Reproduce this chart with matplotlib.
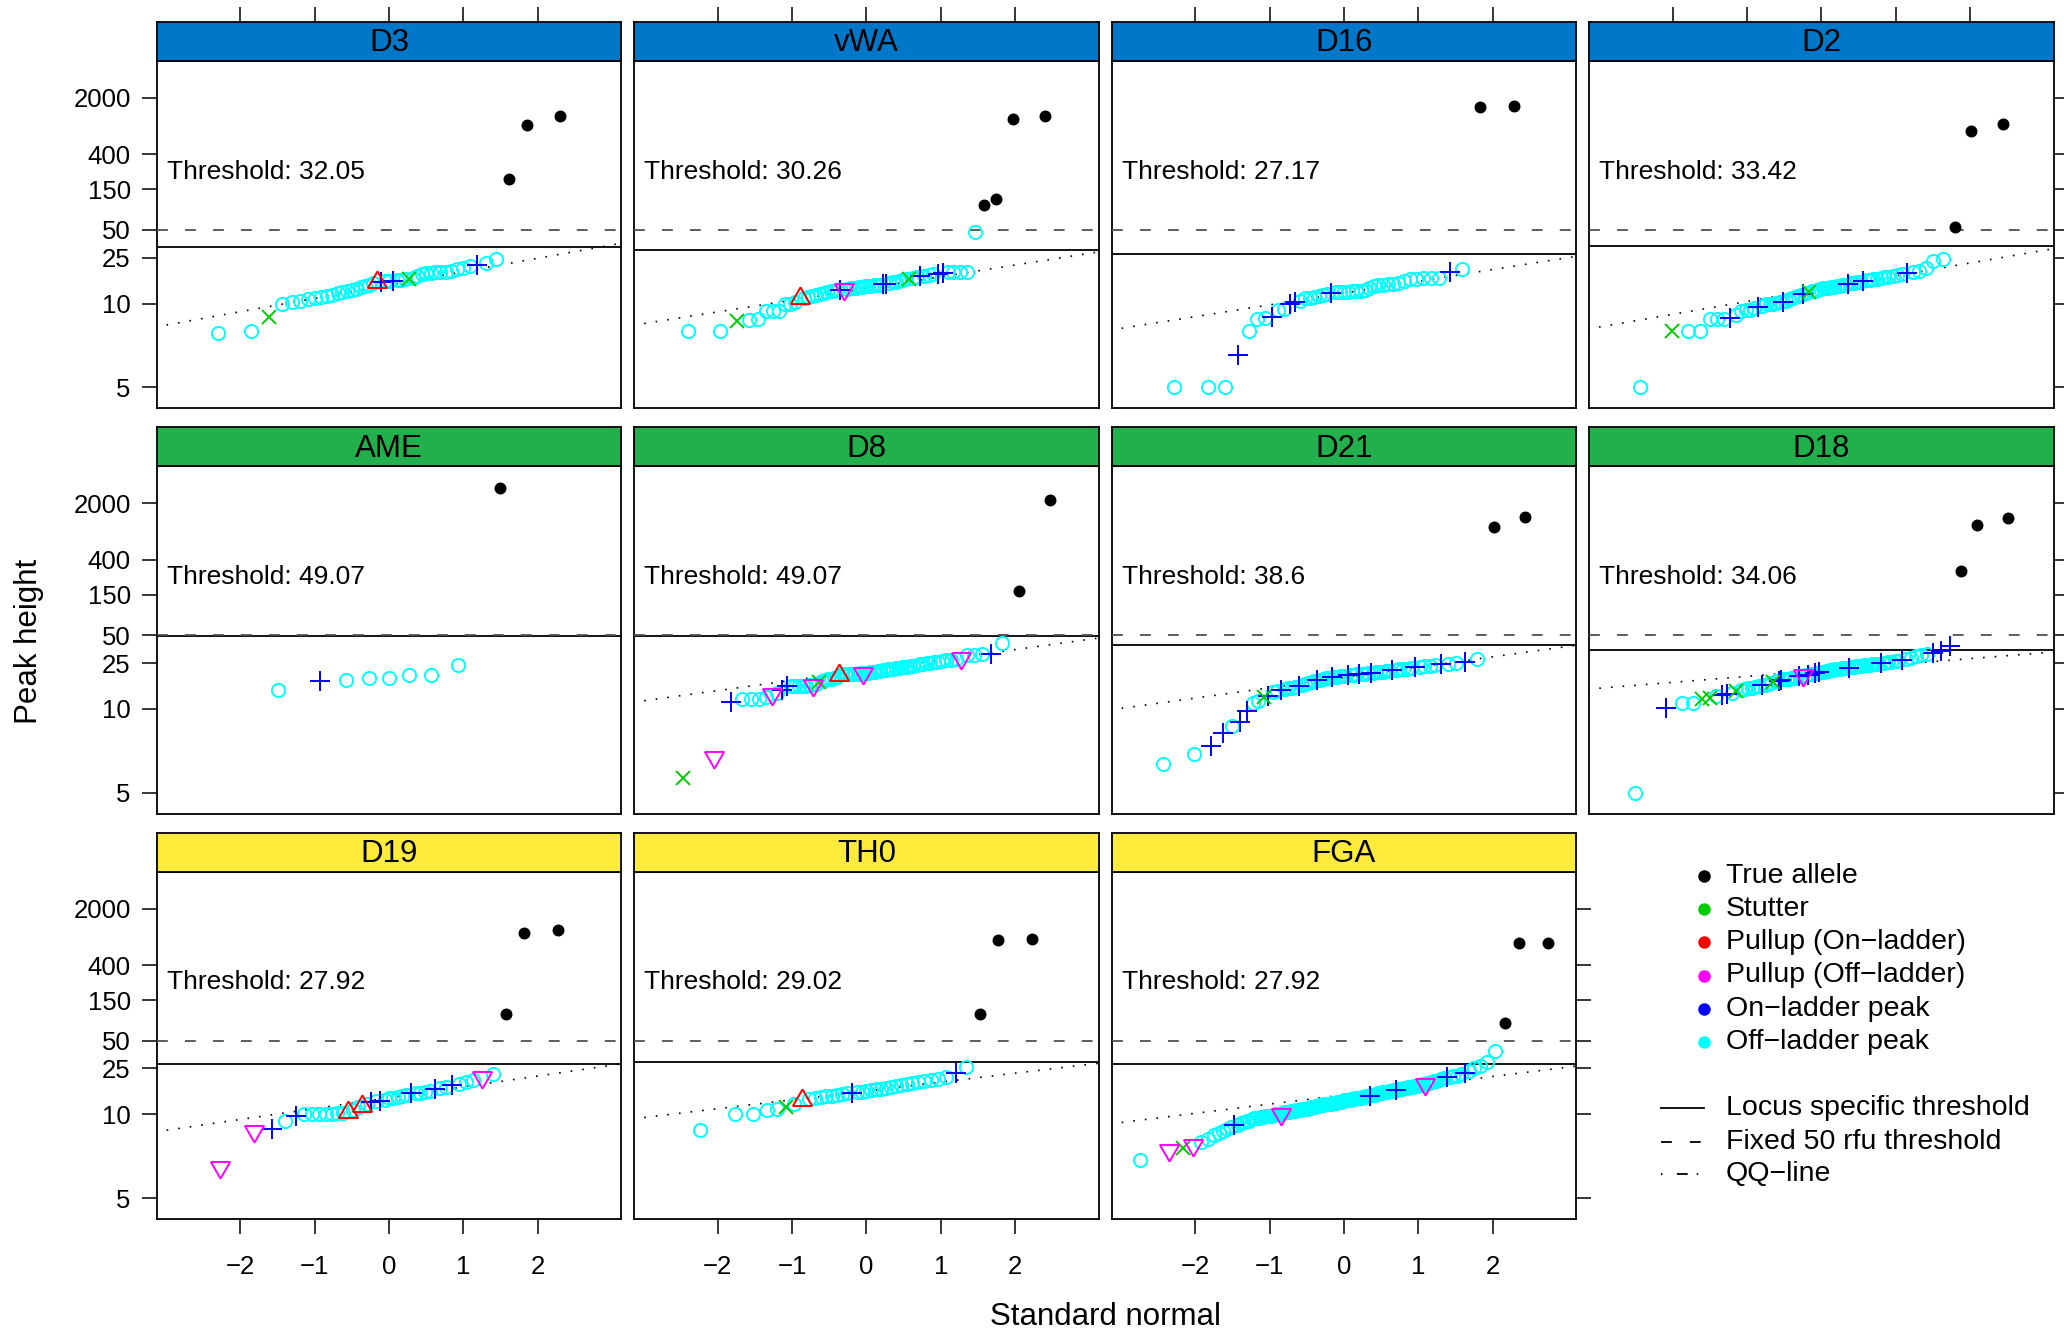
import numpy as np
import matplotlib.pyplot as plt
from statistics import NormalDist

plt.rcParams['font.family'] = ['Liberation Sans', 'DejaVu Sans']

# panel order (row by row), dye of each locus and the printed threshold
loci = ['D3', 'vWA', 'D16', 'D2', 'AME', 'D8', 'D21', 'D18', 'D19', 'TH0', 'FGA']
dye = ['blue', 'blue', 'blue', 'blue', 'green', 'green', 'green', 'green',
       'yellow', 'yellow', 'yellow']
threshold = [32.05, 30.26, 27.17, 33.42, 49.07, 49.07, 38.6, 34.06, 27.92, 29.02, 27.92]
# qq-line on the log(height - 4.5) scale: value at 0 and slope (AME has none)
qq_icept = [2.239, 2.14, 2.007, 2.134, None, 2.82, 2.608, 2.808, 2.18, 2.375, 2.262]
qq_slope = [0.383, 0.336, 0.3375, 0.3675, None, 0.294, 0.2957, 0.170, 0.311, 0.2545, 0.264]

# peak heights (sorted) and peak type per locus
# A true allele, S stutter, R pullup on-ladder, M pullup off-ladder, B on-ladder, C off-ladder
D3_height = [6.85, 7.0, 8.2, 10.0, 10.2, 10.4, 10.7, 10.9, 11.1, 11.4,
             11.6, 11.9, 12.2, 12.4, 12.7, 12.9, 13.3, 13.7, 14.0, 14.3,
             14.6, 14.8, 15.0, 15.0, 15.0, 15.2, 15.4, 15.5, 15.7, 16.0,
             16.6, 17.2, 17.6, 17.9, 18.1, 18.2, 18.3, 18.6, 19.3, 19.9,
             20.5, 21.2, 22.0, 24.1, 200, 925, 1185]
D3_type = "CCSCCCCCCC" "CCCCCCCCCC" "RBCCBCCCSC" "CCCCCCCCCC" "CBCCAAA"

vWA_height = [7.0, 7.0, 7.8, 7.9, 8.0, 8.9, 9.0, 9.0, 9.9, 10.0,
              10.2, 10.9, 11.0, 11.1, 11.3, 11.5, 11.7, 11.9, 12.1, 12.3,
              12.4, 12.6, 12.7, 12.8, 12.9, 13.0, 13.1, 13.2, 13.3, 13.4,
              13.5, 13.6, 13.7, 13.8, 13.9, 14.0, 14.1, 14.2, 14.4, 14.6,
              14.8, 15.0, 15.2, 15.5, 15.7, 16.0, 16.3, 16.5, 16.8, 17.1,
              17.3, 17.5, 17.7, 18.0, 18.2, 18.3, 18.3, 47.7, 97.4, 114,
              1087, 1195]
vWA_type = "CCSCCCCCCC" "CRCCCCCCCC" "CCBMCCCCCC" "CCCCCCBBCC" "CCCCSCCBCC" "CBBCCCCCAA" "AA"

D16_height = [5.0, 5.0, 5.0, 5.76, 7.0, 8.0, 8.1, 8.2, 9.1, 9.2,
              9.9, 10.2, 10.5, 10.9, 11.0, 11.2, 11.3, 11.5, 11.7, 12.0,
              12.1, 12.1, 12.2, 12.2, 12.3, 12.3, 12.4, 12.6, 13.2, 13.6,
              13.9, 14.0, 14.1, 14.2, 14.3, 15.0, 15.5, 15.8, 15.9, 16.0,
              16.1, 18.3, 19.2, 1560, 1590]
D16_type = "CCCBCCCBCC" "BBCCCCCCCB" "CCCCCCCCCC" "CCCCCCCCCC" "CBCAA"

D2_height = [5.0, 7.0, 7.0, 7.0, 8.0, 8.0, 8.0, 8.1, 8.5, 9.0,
             9.1, 9.1, 9.3, 9.5, 9.7, 9.9, 10.0, 10.0, 10.1, 10.2,
             10.3, 10.5, 10.7, 11.0, 11.2, 11.4, 11.6, 11.8, 12.0, 12.1,
             12.3, 12.5, 12.7, 12.9, 13.0, 13.1, 13.2, 13.3, 13.4, 13.5,
             13.7, 13.9, 14.0, 14.1, 14.3, 14.5, 14.7, 14.8, 15.0, 15.2,
             15.4, 15.6, 15.8, 16.0, 16.2, 16.4, 16.7, 17.0, 17.3, 17.8,
             18.1, 18.5, 19.8, 23.0, 24.5, 54.4, 786, 952]
D2_type = "CSCCCCCBCC" "CCCBCCCCCC" "BCCCCCCBCS" "CCCCCCCCCC" "CCCBCCCCBC" "CCCCCCCCCB" "CCCCCAAA"

AME_height = [14.0, 16.9, 17.0, 18.0, 18.0, 19.0, 19.0, 24.0, 3135]
AME_type = "CBCCCCCCA"

D8_height = [5.26, 5.87, 11.2, 11.9, 11.9, 11.9, 12.2, 12.9, 13.3, 14.1,
             15.0, 15.0, 15.0, 15.1, 15.1, 15.2, 15.3, 15.4, 15.6, 16.5,
             16.8, 17.2, 17.4, 17.6, 17.9, 18.3, 19.2, 19.3, 19.4, 19.5,
             19.5, 19.6, 19.6, 19.7, 19.8, 19.8, 19.9, 20.0, 20.2, 20.4,
             20.6, 20.8, 21.0, 21.2, 21.4, 21.6, 21.8, 22.0, 22.2, 22.4,
             22.6, 22.8, 23.0, 23.3, 23.6, 23.9, 24.2, 24.5, 24.8, 25.1,
             25.5, 25.9, 26.3, 26.7, 27.1, 27.4, 28.3, 30.0, 30.5, 30.9,
             31.4, 41.3, 164, 2205]
D8_type = ("SMBCCCCMCB" "BCCCCCCMCS" "CCCCCCRCCC" "CCCCCMCCCC" "CCCCCCCCCC"
           "CCCCCCCCCC" "CCCCCCMCCC" "BCAA")

D21_height = [5.63, 6.0, 6.4, 7.3, 7.9, 8.3, 9.7, 11.0, 11.5, 12.2,
              12.5, 13.5, 13.8, 14.1, 14.3, 14.5, 14.6, 14.8, 15.0, 15.3,
              15.6, 16.0, 16.5, 16.8, 17.0, 17.3, 17.5, 17.7, 17.9, 18.1,
              18.2, 18.4, 18.5, 18.7, 18.8, 19.0, 19.1, 19.2, 19.3, 19.5,
              19.6, 19.7, 19.8, 20.0, 20.1, 20.2, 20.4, 20.6, 20.8, 21.0,
              21.2, 21.4, 21.6, 21.8, 22.0, 22.3, 22.6, 22.9, 23.2, 23.5,
              23.9, 24.2, 24.7, 25.2, 25.6, 27.4, 1027, 1356]
D21_type = "CCBBCBBCCS" "BCCBCCCCBC" "CCCCBCCCCB" "CCCCCBCCCB" "CCCBCCCCCC" "BCCCCCBCCC" "CBCCBCAA"

D18_height = [5.0, 10.2, 11.0, 11.0, 11.8, 12.0, 12.4, 12.8, 13.0, 13.3,
              13.6, 14.0, 14.3, 14.5, 14.6, 14.8, 15.0, 15.3, 15.5, 15.8,
              16.0, 16.3, 16.6, 16.9, 17.2, 17.4, 17.5, 17.6, 17.8, 18.0,
              18.2, 18.5, 18.7, 18.9, 19.0, 19.2, 19.4, 19.6, 19.8, 20.0,
              20.2, 20.4, 20.6, 20.8, 21.0, 21.2, 21.4, 21.6, 21.8, 22.0,
              22.1, 22.2, 22.4, 22.5, 22.7, 22.9, 23.1, 23.3, 23.5, 23.7,
              23.9, 24.1, 24.3, 24.5, 24.7, 25.0, 25.3, 25.6, 25.9, 26.2,
              26.5, 26.8, 27.5, 28.5, 29.3, 30.0, 31.0, 32.2, 33.2, 38.0,
              292, 1078, 1318]
D18_type = ("CBCCSSCBBC" "SCCCCCCBCC" "CSCBBCCCCC" "CBCMCBCCBC" "BCCCCCCCCC"
            "CCCBCCCCCC" "CCCCCBCCCC" "CBCCCCCBBB" "AAA")

D19_height = [5.7, 7.9, 8.1, 9.0, 9.7, 10.0, 10.0, 10.0, 10.0, 10.1,
              10.2, 10.2, 10.4, 10.8, 11.2, 11.5, 11.9, 12.4, 12.5, 12.6,
              12.9, 13.2, 13.4, 13.6, 13.9, 14.2, 14.5, 14.6, 14.7, 14.9,
              15.3, 15.9, 16.2, 16.6, 17.1, 17.6, 18.2, 19.3, 20.5, 21.9,
              103, 1010, 1078]
D19_type = "MMBCBCCCCC" "CCRCCRCBCB" "CCCCCCBCCC" "CBCCBCCCMC" "AAA"

TH0_height = [8.0, 10.0, 10.0, 10.7, 11.0, 11.2, 12.0, 12.7, 13.0, 13.3,
              13.5, 13.7, 13.9, 14.1, 14.3, 14.5, 14.6, 14.8, 15.0, 15.2,
              15.5, 15.8, 16.0, 16.3, 16.6, 17.0, 17.3, 17.6, 18.0, 18.4,
              18.8, 19.3, 19.8, 20.5, 22.4, 26.0, 102, 816, 847]
TH0_type = "CCCCCSCRCC" "CCCCCCBCCC" "CCCCCCCCCC" "CCCCBCAAA"

FGA_height = [5.97, 6.5, 6.6, 6.8, 7.0, 7.2, 7.5, 7.7, 7.9, 8.1,
              8.3, 8.5, 8.6, 8.8, 8.9, 9.0, 9.1, 9.3, 9.4, 9.5,
              9.5, 9.6, 9.6, 9.7, 9.7, 9.8, 9.8, 9.9, 9.9, 10.0,
              10.0, 10.0, 10.1, 10.2, 10.3, 10.3, 10.4, 10.4, 10.5, 10.5,
              10.6, 10.6, 10.7, 10.7, 10.8, 10.8, 10.9, 10.9, 11.0, 11.0,
              11.0, 11.1, 11.1, 11.2, 11.2, 11.3, 11.3, 11.4, 11.5, 11.5,
              11.6, 11.6, 11.7, 11.7, 11.8, 11.8, 11.9, 11.9, 12.0, 12.0,
              12.0, 12.1, 12.1, 12.2, 12.2, 12.3, 12.3, 12.4, 12.4, 12.5,
              12.6, 12.7, 12.7, 12.8, 12.8, 12.9, 12.9, 13.0, 13.0, 13.1,
              13.1, 13.2, 13.2, 13.3, 13.3, 13.4, 13.4, 13.5, 13.5, 13.6,
              13.7, 13.8, 13.8, 13.9, 14.0, 14.0, 14.1, 14.2, 14.3, 14.4,
              14.5, 14.6, 14.7, 14.8, 14.9, 14.9, 15.0, 15.0, 15.1, 15.2,
              15.3, 15.4, 15.5, 15.6, 15.7, 15.8, 15.9, 16.0, 16.1, 16.2,
              16.3, 16.4, 16.5, 16.6, 16.8, 16.9, 17.0, 17.1, 17.3, 17.5,
              17.7, 17.9, 18.1, 18.4, 18.7, 19.0, 19.4, 19.8, 20.2, 20.5,
              20.7, 20.9, 21.2, 21.8, 22.4, 23.5, 25.0, 26.5, 29.5, 38.5,
              79.7, 755, 755]
FGA_type = ("CMSMCCCCCC" "CBCCCCCCCC" "CCCCCCCCCC" "CCMCCCCCCC" "CCCCCCCCCC"
            "CCCCCCCCCC" "CCCCCCCCCC" "CCCCCCCCCC" "CCCCCCCCCC" "CCCCCCCCCC"
            "CCCBCCCCCC" "CCCCCCCCCC" "CCCBCCCCCC" "CCCCCCCCCC" "MCCCCCCCCB"
            "CCCCBCCCCC" "AAA")

heights = [D3_height, vWA_height, D16_height, D2_height, AME_height, D8_height,
           D21_height, D18_height, D19_height, TH0_height, FGA_height]
types = [D3_type, vWA_type, D16_type, D2_type, AME_type, D8_type,
         D21_type, D18_type, D19_type, TH0_type, FGA_type]

strip_col = {'blue': '#0077c8', 'green': '#21b04b', 'yellow': '#ffeb3b'}
style = {
    'C': dict(marker='o', mfc='none', mec='#00ffff', ms=9.5, mew=1.4),
    'B': dict(marker='+', mfc='none', mec='#0000ff', ms=14, mew=1.4),
    'S': dict(marker='x', mfc='none', mec='#00cd00', ms=10, mew=1.4),
    'R': dict(marker=(3, 0, 0), mfc='none', mec='#ff0000', ms=16, mew=1.4),
    'M': dict(marker=(3, 0, 180), mfc='none', mec='#ff00ff', ms=16, mew=1.4),
    'A': dict(marker='o', mfc='black', mec='black', ms=8.6, mew=0),
}
draw_order = ['C', 'B', 'S', 'R', 'M', 'A']


def fwd(h):
    return np.log(np.clip(np.asarray(h, dtype=float) - 4.5, 1e-9, None))


def inv(t):
    return np.exp(t) + 4.5


def qq_x(n):
    a = 3 / 8 if n <= 10 else 0.5
    nd = NormalDist()
    return np.array([nd.inv_cdf((i - a) / (n + 1 - 2 * a)) for i in range(1, n + 1)])


W, H = 2064, 1328
fig = plt.figure(figsize=(W / 100, H / 100), dpi=100)


def rect(left, top, width, height):
    return [left / W, 1 - (top + height) / H, width / W, height / H]


col_left = [156.9, 634.4, 1111.9, 1589.4]
row_top = [61, 466.35, 871.7]
pw, ph, sh = 464.1, 347.3, 39
xlim = (-3.12, 3.12)
ylim = (4.774, 5762)
yt = [5, 10, 25, 50, 150, 400, 2000]
tick_kw = dict(direction='out', length=10.8, width=1.1, labelsize=18.5, color='black')

for k, locus in enumerate(loci):
    r, c = divmod(k, 4)
    last_in_row = (k == len(loci) - 1) or c == 3
    ax = fig.add_axes(rect(col_left[c], row_top[r], pw, ph))
    ax.set_yscale('function', functions=(fwd, inv))
    ax.set_xlim(*xlim)
    ax.set_ylim(*ylim)

    if qq_icept[k] is not None:
        xl = np.array([-3.3, 3.3])
        ax.plot(xl, inv(qq_icept[k] + qq_slope[k] * xl), color='black', lw=1.2,
                ls=(0, (1, 6)), zorder=1)
    ax.axhline(threshold[k], color='black', lw=1.3, zorder=2)
    ax.axhline(50, color='#505050', lw=1.3, ls=(0, (6, 9.5)), zorder=3)

    h = np.array(heights[k], dtype=float)
    t = np.array(list(types[k]))
    order = np.argsort(h, kind='stable')
    h, t = h[order], t[order]
    x = qq_x(len(h))
    for code in draw_order:
        m = t == code
        if m.any():
            ax.plot(x[m], h[m], ls='none', zorder=4, **style[code])

    ax.text(0.021, 0.681, f"Threshold: {threshold[k]:g}", transform=ax.transAxes,
            ha='left', va='center', fontsize=19)

    ax.set_xticks([-2, -1, 0, 1, 2])
    ax.set_yticks(yt)
    ax.set_yticklabels([str(v) for v in yt])
    ax.minorticks_off()
    ax.tick_params(axis='y', pad=8, left=(c == 0), labelleft=(c == 0),
                   right=last_in_row, labelright=False, **tick_kw)
    ax.tick_params(axis='x', pad=15, bottom=(r == 2), labelbottom=(r == 2),
                   top=False, labeltop=False, **tick_kw)
    for s in ax.spines.values():
        s.set_linewidth(1.3)

    sx = fig.add_axes(rect(col_left[c], row_top[r] - sh, pw, sh))
    sx.set_facecolor(strip_col[dye[k]])
    sx.set_xlim(*xlim)
    sx.set_yticks([])
    if r == 0:
        sx.set_xticks([-2, -1, 0, 1, 2])
        sx.tick_params(axis='x', bottom=False, labelbottom=False, top=True,
                       labeltop=False, **tick_kw)
    else:
        sx.set_xticks([])
    for s in sx.spines.values():
        s.set_linewidth(1.3)
    sx.text(0.5, 0.45, locus, transform=sx.transAxes, ha='center', va='center',
            fontsize=22.5)

# overlay in pixel coordinates for axis titles and the legend
ov = fig.add_axes([0, 0, 1, 1])
ov.set_xlim(0, W)
ov.set_ylim(H, 0)
ov.axis('off')
ov.text(1105, 1317, 'Standard normal', ha='center', va='center', fontsize=22.5)
ov.text(29, 641, 'Peak height', ha='center', va='center', rotation=90, fontsize=22.5)

leg_labels = ['True allele', 'Stutter', 'Pullup (On\u2212ladder)', 'Pullup (Off\u2212ladder)',
              'On\u2212ladder peak', 'Off\u2212ladder peak']
leg_colors = ['black', '#00cd00', '#ff0000', '#ff00ff', '#0000ff', '#00ffff']
leg_y = [875.9, 909.1, 942.3, 975.5, 1008.7, 1041.9]
for lab, col, yy in zip(leg_labels, leg_colors, leg_y):
    ov.plot([1704], [yy], marker='o', ms=9, mfc=col, mec=col, mew=0, ls='none')
    ov.text(1725.5, yy, lab, ha='left', va='center', fontsize=20.5)

line_labels = ['Locus specific threshold', 'Fixed 50 rfu threshold', 'QQ\u2212line']
line_styles = ['-', (0, (6, 10)), (0, (0.8, 8, 6, 5, 0.8, 7, 0.8, 8))]
line_y = [1108.3, 1141.6, 1174.3]
for lab, lsty, yy in zip(line_labels, line_styles, line_y):
    ov.plot([1661, 1704], [yy, yy], color='black', lw=1.3, ls=lsty)
    ov.text(1725.5, yy, lab, ha='left', va='center', fontsize=20.5)

fig.savefig('out.png', dpi=100)
